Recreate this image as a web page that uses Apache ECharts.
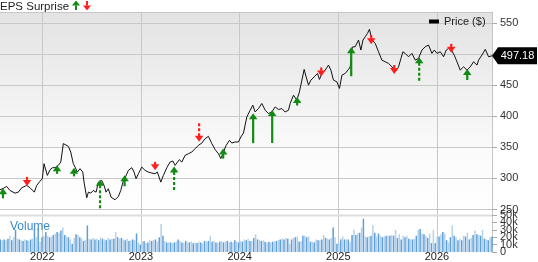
<!DOCTYPE html>
<html><head><meta charset="utf-8">
<script src="https://cdn.jsdelivr.net/npm/echarts@6/dist/echarts.min.js"></script>
<style>html,body{margin:0;padding:0;background:#fff}#c{width:538px;height:262px}</style>
</head><body><div id="c"></div>
<script>
// ---- data (dates as decimal years) ----
const xMin = 2021.571, xMax = 2026.558;
const yearTicks = ['2022','2023','2024','2025','2026'];
const volumeTicks = [0, 10, 20, 30, 40, 50];
const priceDates = [
2021.571,2021.604,2021.639,2021.672,2021.723,2021.757,2021.791,2021.842,2021.875,2021.892,
2021.919,2021.943,2021.977,2022.000,2022.017,2022.034,2022.051,2022.078,2022.105,2022.129,
2022.162,2022.187,2022.213,2022.230,2022.264,2022.288,2022.314,2022.332,2022.355,2022.382,
2022.410,2022.423,2022.450,2022.467,2022.491,2022.517,2022.545,2022.568,2022.602,2022.626,
2022.646,2022.669,2022.697,2022.737,2022.771,2022.795,2022.822,2022.839,2022.872,2022.907,
2022.930,2022.950,2022.974,2023.008,2023.042,2023.075,2023.110,2023.143,2023.166,2023.201,
2023.227,2023.262,2023.295,2023.323,2023.346,2023.363,2023.389,2023.414,2023.447,2023.481,
2023.515,2023.549,2023.582,2023.617,2023.650,2023.684,2023.718,2023.752,2023.785,2023.809,
2023.836,2023.863,2023.897,2023.921,2023.954,2023.988,2024.012,2024.039,2024.073,2024.107,
2024.134,2024.157,2024.191,2024.225,2024.259,2024.292,2024.327,2024.360,2024.394,2024.428,
2024.461,2024.495,2024.512,2024.546,2024.580,2024.606,2024.631,2024.654,2024.674,2024.698,
2024.722,2024.756,2024.789,2024.809,2024.834,2024.867,2024.901,2024.925,2024.951,2024.986,
2025.012,2025.037,2025.070,2025.103,2025.121,2025.141,2025.171,2025.205,2025.229,2025.250,
2025.273,2025.296,2025.316,2025.341,2025.374,2025.408,2025.442,2025.476,2025.509,2025.544,
2025.577,2025.611,2025.635,2025.655,2025.678,2025.712,2025.746,2025.780,2025.813,2025.848,
2025.881,2025.915,2025.949,2025.973,2026.000,2026.034,2026.067,2026.094,2026.118,2026.142,
2026.175,2026.203,2026.236,2026.270,2026.304,2026.338,2026.371,2026.406,2026.422,2026.456,
2026.490,2026.523,2026.558];
const priceValues = [
281.8,283.9,287.1,280.6,276.3,277.9,285.0,288.7,285.0,281.8,
277.9,288.7,295.6,299.5,323.7,321.0,304.8,314.0,317.3,317.3,
321.0,326.3,356.0,357.6,351.6,342.4,323.7,318.2,310.2,315.6,
310.2,294.0,268.9,277.9,276.3,280.6,277.9,294.0,296.8,288.7,
277.9,283.4,269.8,265.6,271.0,280.6,296.8,301.1,312.9,317.3,
310.2,299.5,307.6,318.2,312.9,310.2,308.6,307.6,310.2,294.0,
304.8,317.3,326.3,327.9,321.0,324.7,330.2,326.3,337.1,339.8,
342.4,347.9,353.2,356.9,364.0,367.7,356.0,346.3,339.8,331.8,
342.4,353.2,361.3,356.9,358.6,358.6,366.6,373.1,398.9,409.7,
417.8,406.9,412.4,420.5,409.7,404.4,406.9,415.0,410.8,412.4,
406.9,409.7,420.5,433.9,425.8,439.2,458.1,475.3,463.4,450.0,
458.1,463.4,468.9,459.2,468.9,474.2,482.3,474.2,458.1,455.3,
444.7,466.1,468.9,475.3,479.5,511.3,511.8,522.6,506.5,522.6,
527.9,533.4,539.9,522.6,517.3,503.7,490.3,487.6,485.0,479.5,
471.5,479.5,493.1,503.7,501.1,495.7,501.1,490.3,493.1,506.5,
511.8,514.5,501.1,506.5,501.1,503.7,495.7,506.5,509.2,507.6,
498.4,487.6,474.2,479.5,474.2,479.5,487.6,482.3,490.3,498.4,
507.6,495.7,497.18];
// EPS surprise events
const epsDates = [2021.601,2021.845,2022.149,2022.321,2022.585,2022.834,2023.143,2023.336,2023.589,2023.833,
                  2024.137,2024.330,2024.583,2024.827,2025.131,2025.334,2025.567,2025.820,2026.145,2026.307];
const epsPrice = [284,288,321,317,298,305,313,319,359,348,405,410,431,464,511,516,468,495,502,476];
const epsSurprise = [1.5,-1.0,1.0,1.5,11.5,2.0,-1.5,8.5,-6.0,1.5,11.5,13.0,1.5,-1.0,11.0,-1.0,-1.0,9.0,-1.0,2.0];
const epsDashed = [0,0,1,1,1,0,1,1,1,0,0,0,1,0,0,0,0,1,0,0];
// weekly volume (thousands)
const volumeStart = 2021.575;
const volumeK = [
17,16,17,16,18,22,16,20,30,18, 17,16,15,17,16,15,17,18,31,20,
32,14,20,22,27,22,20,21,23,25, 27,26,29,33,23,21,20,17,11,19,
24,23,20,18,15,16,36,18,17,19, 17,18,16,20,18,17,16,19,17,18,
18,27,20,18,19,17,16,18,15,16, 17,16,25,13,10,14,15,12,13,16,
15,16,17,14,20,38,22,15,13,13, 13,12,13,14,17,15,13,12,15,13,
13,14,12,13,12,14,13,12,15,14, 15,22,14,15,13,12,14,15,13,14,
15,13,14,13,16,14,13,15,14,17, 16,18,15,15,19,24,17,16,15,16,
14,13,14,13,14,14,15,16,17,18, 17,19,18,11,17,19,20,21,14,15,
22,22,20,21,14,14,13,17,16,16, 17,23,19,18,17,19,33,20,11,12,
17,21,17,17,17,14,23,30,23,25, 26,33,45,21,20,21,22,36,26,21,
25,22,20,21,22,22,22,23,22,30, 19,24,17,22,20,22,18,17,17,18,
22,30,31,25,24,22,19,25,12,30, 12,21,21,24,27,25,16,13,20,36,
22,20,16,18,16,22,21,26,17,19, 23,29,24,23,22,30,18,17,16,20,21];

// ---- build ----
const FONT = '"Liberation Sans", Arial, sans-serif';
const GREEN = '#138a13', RED = '#ff1f1f';
const priceData = priceDates.map((t, i) => [t, priceValues[i]]);
const epsData = epsDates.map((t, i) => [t, epsPrice[i], epsSurprise[i], epsDashed[i]]);
const WEEK = 7 / 365.25;
const volData = volumeK.map((v, i) => [volumeStart + i * WEEK, v]);
const volTickData = volumeTicks.map(v => [xMax, v]);
const lastIdx = priceValues.length - 1;

const chart = echarts.init(document.getElementById('c'), null, {renderer: 'canvas'});
const xHidden = (gi) => ({gridIndex: gi, type: 'value', min: xMin, max: xMax, show: false});

chart.setOption({
  animation: false,
  textStyle: {fontFamily: FONT},
  grid: [
    {left: 0, right: 46, top: 12, bottom: 10},
    {left: 0, right: 46, top: 23, height: 186.5},
    {left: 0, right: 46, top: 215, height: 37}
  ],
  legend: {
    data: ['Price ($)'], left: 429, top: 16, padding: 0, icon: 'rect',
    itemWidth: 10, itemHeight: 4, textStyle: {fontSize: 11, color: '#222', fontFamily: FONT}
  },
  xAxis: [
    {gridIndex: 0, type: 'value', min: xMin, max: xMax, minInterval: 1, maxInterval: 1, splitNumber: 5,
     axisLine: {show: false}, axisTick: {show: false},
     axisLabel: {showMinLabel: false, showMaxLabel: false, fontSize: 11, color: '#222', margin: 3,
       formatter: v => { const s = String(Math.round(v)); return yearTicks.includes(s) ? s : ''; }},
     splitLine: {show: true, showMinLine: false, showMaxLine: false, lineStyle: {color: '#c8c8c8', width: 1}}},
    xHidden(1), xHidden(2)
  ],
  yAxis: [
    {gridIndex: 0, type: 'value', min: 0, max: 1, position: 'right',
     axisLine: {show: true, lineStyle: {color: '#c4c4c4'}}, axisTick: {show: false},
     axisLabel: {show: false}, splitLine: {show: false}},
    {gridIndex: 1, type: 'value', min: 250, max: 550, interval: 50, position: 'right',
     axisLine: {show: false}, axisTick: {show: true, length: 5, lineStyle: {color: '#aaa'}},
     axisLabel: {fontSize: 11, color: '#333', margin: 8, showMinLabel: true, showMaxLabel: true, hideOverlap: false},
     splitLine: {show: true, lineStyle: {color: '#c8c8c8', width: 1}}},
    {gridIndex: 2, type: 'value', min: 0, max: 50, interval: 10, position: 'right',
     axisLine: {show: false}, axisTick: {show: true, length: 5, lineStyle: {color: '#aaa'}},
     axisLabel: {show: false}, splitLine: {show: false}}
  ],
  graphic: [
    {type: 'rect', z: -10, silent: true, shape: {x: 0, y: 12, width: 492, height: 203},
     style: {fill: new echarts.graphic.LinearGradient(0, 0, 0, 1, [
       {offset: 0, color: '#e3e3e3'}, {offset: 0.7, color: '#fbfbfb'}, {offset: 1, color: '#ffffff'}])}},
    {type: 'line', z: 1, silent: true, shape: {x1: 0, y1: 12.5, x2: 492, y2: 12.5}, style: {stroke: '#c8c8c8', lineWidth: 1}},
    {type: 'rect', z: 1, silent: true, shape: {x: 0, y: 214.5, width: 492, height: 2}, style: {fill: '#dedede'}},
    {type: 'text', z: 10, silent: true, x: 0, y: 1, style: {text: 'EPS Surprise', font: '11.5px ' + FONT, fill: '#222'}},
    {type: 'polygon', z: 10, silent: true, shape: {points: [[76, 0.5], [72, 5.5], [80, 5.5]]}, style: {fill: GREEN}},
    {type: 'rect', z: 10, silent: true, shape: {x: 75, y: 5.5, width: 2, height: 4.5}, style: {fill: GREEN}},
    {type: 'rect', z: 10, silent: true, shape: {x: 86, y: 1, width: 2, height: 4.5}, style: {fill: RED}},
    {type: 'polygon', z: 10, silent: true, shape: {points: [[83, 5.5], [91, 5.5], [87, 10.5]]}, style: {fill: RED}},
    {type: 'text', z: 10, silent: true, x: 10, y: 221, style: {text: 'Volume', font: '12px ' + FONT, fill: '#3a8ad0'}}
  ],
  series: [
    {name: 'Price ($)', type: 'line', xAxisIndex: 1, yAxisIndex: 1, data: priceData,
     symbol: 'none', showSymbol: false, color: '#000', lineStyle: {color: '#111', width: 1}, z: 3,
     markPoint: {
       silent: true, symbol: 'path://M0,8.5L6,0L45,0L45,17L6,17Z', symbolSize: [45, 17],
       symbolKeepAspect: false, symbolOffset: [22.5, 0], itemStyle: {color: '#000'},
       label: {show: true, position: 'inside', offset: [3, 0], color: '#fff', fontSize: 11, fontFamily: FONT,
         formatter: p => Number(p.value).toFixed(2)},
       data: [{coord: [priceDates[lastIdx], priceValues[lastIdx]], value: priceValues[lastIdx]}]
     }},
    {type: 'custom', xAxisIndex: 1, yAxisIndex: 1, data: epsData, z: 4, clip: false, silent: true,
     renderItem: (params, api) => {
       const pt = api.coord([api.value(0), api.value(1)]);
       const s = api.value(2), dashed = api.value(3) === 1;
       const up = s > 0, color = up ? GREEN : RED, dir = up ? 1 : -1;
       const headH = 6, headW = 8.5, total = 7 + Math.abs(s) * 2;
       const x = pt[0], y = pt[1];
       return {type: 'group', children: [
         {type: 'line', shape: {x1: x, y1: y + dir * (headH - 0.5), x2: x, y2: y + dir * total},
          style: {stroke: color, lineWidth: 2.2, lineDash: dashed ? [3, 2] : null}},
         {type: 'polygon', shape: {points: [[x, y], [x - headW / 2, y + dir * headH], [x + headW / 2, y + dir * headH]]},
          style: {fill: color}}
       ]};
     }},
    {type: 'bar', xAxisIndex: 2, yAxisIndex: 2, data: volData, barWidth: 1.5, silent: true,
     itemStyle: {color: p => (p.dataIndex % 2 ? '#b3d0ec' : '#5f9fd8')}},
    {type: 'custom', xAxisIndex: 2, yAxisIndex: 2, data: volTickData, z: 5, clip: false, silent: true,
     renderItem: (params, api) => {
       const v = api.value(1);
       const pt = api.coord([api.value(0), v]);
       return {type: 'text', x: pt[0] + 8, y: pt[1],
         style: {text: v === 0 ? '0' : v + 'k', font: '11px ' + FONT, fill: '#333',
           textAlign: 'left', textVerticalAlign: 'middle', verticalAlign: 'middle'}};
     }}
  ]
});
</script></body></html>
